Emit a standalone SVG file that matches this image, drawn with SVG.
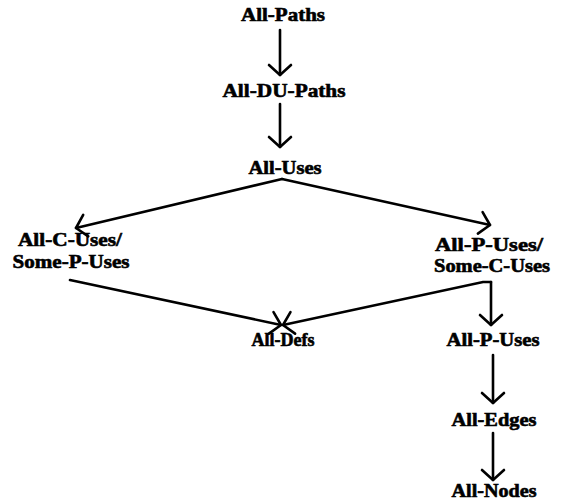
<svg xmlns="http://www.w3.org/2000/svg" width="562" height="504" viewBox="0 0 562 504">
  <style>
    .lbl { font-family: "Liberation Serif", "Times New Roman", "DejaVu Serif", serif; font-weight: bold; font-size: 18px; fill: #000; stroke: #000; stroke-width: 0.6; text-anchor: middle; }
    .edge { fill: none; stroke: #000; stroke-width: 2.6; stroke-linecap: round; }
  </style>
  <defs>
    <marker id="head" markerUnits="userSpaceOnUse" markerWidth="26" markerHeight="26" refX="12" refY="13" orient="auto" viewBox="0 0 26 26">
      <path d="M2,2 L12,13 L2,24" fill="none" stroke="#000" stroke-width="2.6" stroke-linecap="round" stroke-linejoin="round"/>
    </marker>
  </defs>
  <rect width="562" height="504" fill="#fff"/>

  <g id="connectors">
    <line class="edge" x1="280" y1="30" x2="280" y2="75" marker-end="url(#head)"/>
    <line class="edge" x1="280" y1="104" x2="280" y2="147" marker-end="url(#head)"/>
    <line class="edge" x1="282" y1="179" x2="76" y2="228" marker-end="url(#head)"/>
    <line class="edge" x1="282" y1="179" x2="490" y2="225" marker-end="url(#head)"/>
    <line class="edge" x1="70" y1="280" x2="281" y2="325" marker-end="url(#head)"/>
    <polyline class="edge" points="491,282 483,282 283,325" marker-end="url(#head)"/>
    <line class="edge" x1="491" y1="282" x2="491" y2="325" marker-end="url(#head)"/>
    <line class="edge" x1="493" y1="355" x2="493" y2="403" marker-end="url(#head)"/>
    <line class="edge" x1="493" y1="433" x2="493" y2="480" marker-end="url(#head)"/>
  </g>

  <g id="all-paths"><text class="lbl" x="283" y="21" textLength="84" lengthAdjust="spacingAndGlyphs">All-Paths</text></g>
  <g id="all-du-paths"><text class="lbl" x="284" y="97" textLength="123" lengthAdjust="spacingAndGlyphs">All-DU-Paths</text></g>
  <g id="all-uses"><text class="lbl" x="285" y="174" textLength="73" lengthAdjust="spacingAndGlyphs">All-Uses</text></g>
  <g id="all-c-uses">
    <text class="lbl" x="70" y="246" textLength="104" lengthAdjust="spacingAndGlyphs">All-C-Uses/</text>
    <text class="lbl" x="71" y="268" textLength="117" lengthAdjust="spacingAndGlyphs">Some-P-Uses</text>
  </g>
  <g id="all-p-uses-some-c">
    <text class="lbl" x="489" y="251" textLength="108" lengthAdjust="spacingAndGlyphs">All-P-Uses/</text>
    <text class="lbl" x="492" y="272" textLength="116" lengthAdjust="spacingAndGlyphs">Some-C-Uses</text>
  </g>
  <g id="all-defs"><text class="lbl" x="283" y="346" textLength="63" lengthAdjust="spacingAndGlyphs">All-Defs</text></g>
  <g id="all-p-uses"><text class="lbl" x="493" y="346" textLength="93" lengthAdjust="spacingAndGlyphs">All-P-Uses</text></g>
  <g id="all-edges"><text class="lbl" x="494" y="426" textLength="85" lengthAdjust="spacingAndGlyphs">All-Edges</text></g>
  <g id="all-nodes"><text class="lbl" x="494" y="497" textLength="85" lengthAdjust="spacingAndGlyphs">All-Nodes</text></g>
</svg>
